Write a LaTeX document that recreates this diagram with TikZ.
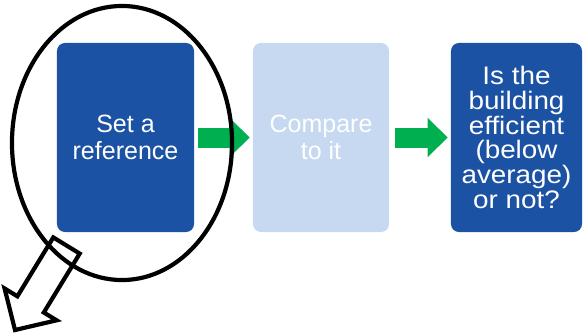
\documentclass[tikz,border=0pt]{standalone}
\usepackage{fontspec}
\setmainfont{Liberation Sans}
\newfontfamily\widesans[FakeStretch=1.1]{Liberation Sans}
\usetikzlibrary{arrows.meta}
\definecolor{darkbox}{RGB}{28,82,163}
\definecolor{lightbox}{RGB}{198,217,241}
\definecolor{flowgreen}{RGB}{0,176,80}

\begin{document}
\begin{tikzpicture}[x=0.025cm,y=-0.025cm,
    step box/.style={rounded corners=0.2cm,minimum height=4.725cm,inner sep=0pt,text=white,align=center,font=\fontsize{17.8}{19}\selectfont},
    flow/.style={flowgreen,line width=0.5cm,-{Triangle[length=0.5cm,width=0.95cm]}}]
                \useasboundingbox (0,0) rectangle (583,335);
                \node[step box,fill=darkbox,minimum width=3.425cm] (setref) at (125.5,137.5) {Set a\\reference};
                \node[step box,fill=lightbox,minimum width=3.4cm] (cmpit) at (321,137.5) {Compare\\to it};
                \node[step box,fill=darkbox,minimum width=3.275cm,font=\widesans\fontsize{18}{17.7}\selectfont] (isbld) at (516.5,137.5) {Is the\\building\\efficient\\(below\\average)\\or not?};

                \draw[flow,shorten <=0.1cm,shorten >=0.075cm] (setref) -- (cmpit);
                \draw[flow,shorten <=0.15cm,shorten >=0.075cm] (cmpit) -- (isbld);

                \draw[line width=0.105cm] (122,143) ellipse [x radius=2.75cm,y radius=3.425cm];
                \draw[line width=0.105cm,miter limit=4] (53.3,237.4) -- (17.4,296.3) -- (4.6,288.5) -- (15,330) -- (56.6,320.3) -- (43.8,312.5) -- (79.7,253.6) -- cycle;
\end{tikzpicture}
\end{document}
